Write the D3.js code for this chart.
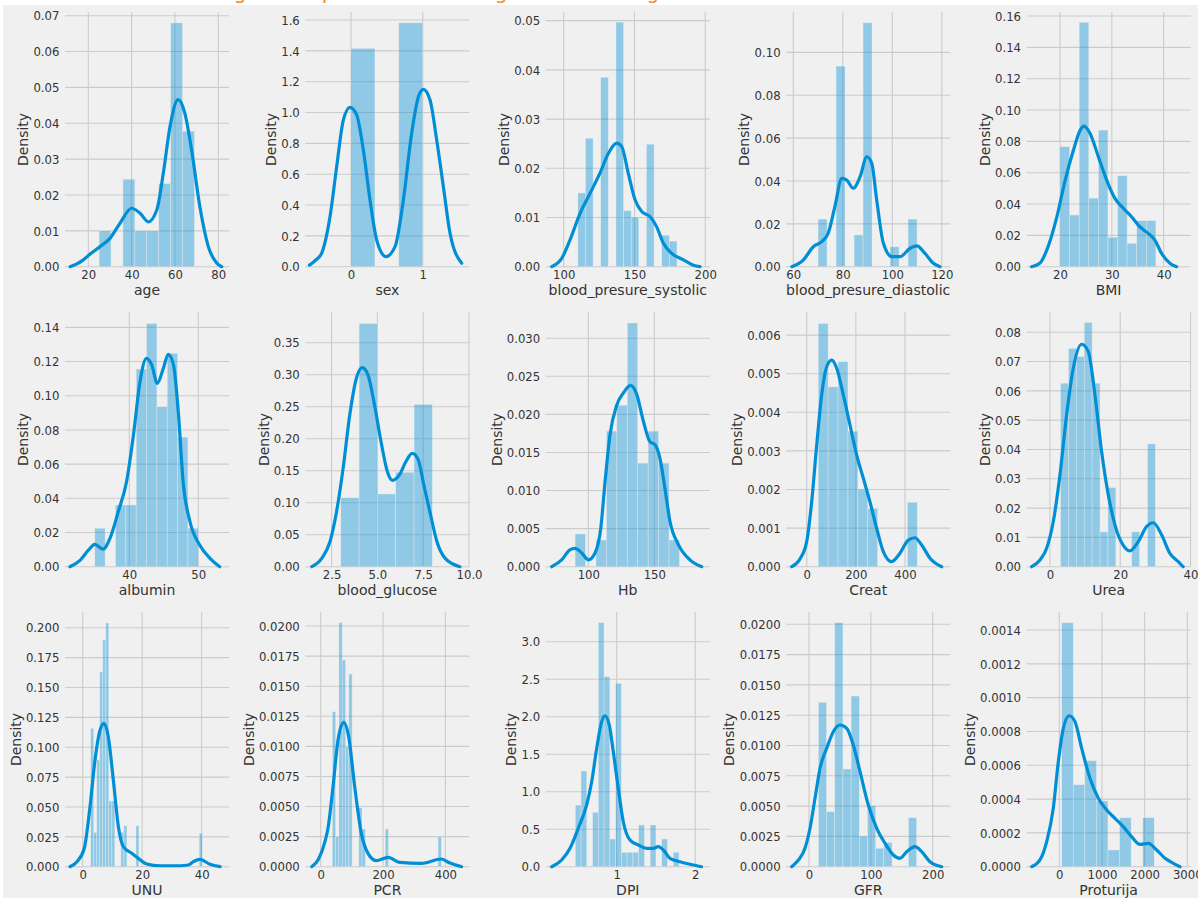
<!DOCTYPE html>
<html><head><meta charset="utf-8">
<script src="https://cdn.jsdelivr.net/npm/d3@7"></script>
<style>
html,body{margin:0;padding:0;background:#fff;overflow:hidden;}
svg{display:block;}
</style></head><body>
<svg id="chart" width="1198" height="901"></svg>
<script>
// ---------------- DATA ----------------
const features = ["age","sex","blood_presure_systolic","blood_presure_diastolic","BMI","albumin","blood_glucose","Hb","Creat","Urea","UNU","PCR","DPI","GFR","Proturija"];

const ageBinRange = [25, 69];
const ageHist = [0.0100, 0, 0.0244, 0.0100, 0.0100, 0.0232, 0.0680, 0.0378];
const ageKdeX = [11.6, 14.5, 17.7, 21.0, 25.4, 30.0, 34.6, 40.0, 43.9, 47.7, 51.6, 54.6, 57.7, 61.5, 64.6, 67.7, 71.5, 75.4, 79.3, 81.6];
const ageKdeY = [0, 0.0007, 0.0019, 0.0036, 0.0056, 0.0079, 0.0121, 0.0163, 0.0149, 0.0125, 0.0158, 0.0260, 0.0390, 0.0466, 0.0427, 0.0325, 0.0167, 0.0056, 0.0010, 0];
const ageXTicks = ["20","40","60","80"];
const ageYTicks = ["0.00","0.01","0.02","0.03","0.04","0.05","0.06","0.07"];

const sexBinRange = [0, 1];
const sexHist = [1.416, 0, 1.582];
const sexKdeX = [-0.58, -0.5, -0.41, -0.293, -0.2, -0.107, -0.014, 0.079, 0.172, 0.265, 0.358, 0.488, 0.614, 0.73, 0.846, 0.939, 1.009, 1.102, 1.195, 1.288, 1.381, 1.544];
const sexKdeY = [0.01, 0.04, 0.087, 0.324, 0.649, 0.951, 1.034, 0.984, 0.757, 0.433, 0.173, 0.065, 0.13, 0.433, 0.865, 1.10, 1.15, 1.081, 0.822, 0.519, 0.217, 0.022];
const sexXTicks = ["0","1"];
const sexYTicks = ["0.0","0.2","0.4","0.6","0.8","1.0","1.2","1.4","1.6"];

const sysBinRange = [110, 180];
const sysHist = [0.0150, 0.0261, 0, 0.0385, 0, 0.0497, 0.0114, 0.0101, 0, 0.0249, 0, 0.0064, 0.0052];
const sysKdeX = [91.5, 98.6, 104.4, 111.5, 118.6, 125.6, 131.5, 137.4, 141.0, 145.6, 150.4, 155.1, 160.9, 165.7, 170.3, 176.3, 184.5, 191.5, 196.3];
const sysKdeY = [0, 0.0017, 0.0054, 0.0108, 0.0149, 0.0190, 0.0230, 0.0251, 0.0244, 0.0190, 0.0136, 0.0112, 0.0102, 0.0081, 0.0048, 0.0027, 0.0014, 0.0003, 0];
const sysXTicks = ["100","150","200"];
const sysYTicks = ["0.00","0.01","0.02","0.03","0.04","0.05"];

const diaBinRange = [70, 110];
const diaHist = [0.0222, 0, 0.0936, 0, 0.0148, 0.1138, 0, 0, 0.0093, 0, 0.0222];
const diaKdeX = [59.4, 64.0, 68.1, 71.5, 74.1, 76.8, 79.6, 81.6, 84.2, 87.0, 89.7, 91.7, 93.7, 96.4, 99.8, 103.1, 107.2, 109.9, 113.2, 116.6, 119.3];
const diaKdeY = [0, 0.0031, 0.0093, 0.0117, 0.0156, 0.0280, 0.0412, 0.0404, 0.0366, 0.0420, 0.0513, 0.0482, 0.0311, 0.0109, 0.0047, 0.0047, 0.0086, 0.0097, 0.0062, 0.0016, 0];
const diaXTicks = ["60","80","100","120"];
const diaYTicks = ["0.00","0.02","0.04","0.06","0.08","0.10"];

const bmiBinRange = [20, 38.5];
const bmiHist = [0.0766, 0.0330, 0.1560, 0.0438, 0.0872, 0.0188, 0.0581, 0.0149, 0.0294, 0.0294];
const bmiKdeX = [14.5, 16.1, 17.7, 19.4, 21.0, 22.6, 23.9, 24.6, 25.8, 27.4, 29.0, 30.6, 32.2, 33.8, 35.4, 37.0, 38.3, 39.6, 41.2, 42.5];
const bmiKdeY = [0, 0.0022, 0.0128, 0.0319, 0.0553, 0.0745, 0.0872, 0.0898, 0.0851, 0.0702, 0.0553, 0.0436, 0.0373, 0.0319, 0.0255, 0.0213, 0.0170, 0.0085, 0.0022, 0];
const bmiXTicks = ["20","30","40"];
const bmiYTicks = ["0.00","0.02","0.04","0.06","0.08","0.10","0.12","0.14","0.16"];

const albBinRange = [35, 50];
const albHist = [0.0225, 0, 0.0361, 0.0361, 0.1156, 0.1423, 0.0936, 0.1248, 0.0757, 0.0225];
const albKdeX = [31.4, 32.9, 34.1, 35.0, 36.2, 37.2, 38.4, 39.6, 40.6, 41.55, 42.5, 43.25, 44.06, 44.93, 45.65, 46.4, 47.1, 47.8, 48.8, 50.2, 51.7, 53.1];
const albKdeY = [0, 0.0039, 0.0098, 0.0131, 0.0103, 0.0166, 0.0322, 0.0497, 0.0770, 0.1082, 0.1219, 0.1180, 0.1072, 0.1160, 0.1242, 0.1180, 0.0906, 0.0497, 0.0263, 0.0127, 0.0049, 0];
const albXTicks = ["40","50"];
const albYTicks = ["0.00","0.02","0.04","0.06","0.08","0.10","0.12","0.14"];

const gluBinRange = [3, 8];
const gluHist = [0.1078, 0.3800, 0.1136, 0.1475, 0.2537];
const gluKdeX = [1.42, 1.96, 2.41, 2.77, 3.13, 3.49, 3.85, 4.17, 4.48, 4.84, 5.2, 5.55, 5.82, 6.19, 6.55, 6.9, 7.23, 7.53, 7.9, 8.25, 8.7, 9.5];
const gluKdeY = [0, 0.013, 0.039, 0.086, 0.154, 0.237, 0.294, 0.311, 0.300, 0.253, 0.195, 0.148, 0.135, 0.143, 0.164, 0.177, 0.167, 0.128, 0.081, 0.039, 0.013, 0];
const gluXTicks = ["2.5","5.0","7.5","10.0"];
const gluYTicks = ["0.00","0.05","0.10","0.15","0.20","0.25","0.30","0.35"];

const hbBinRange = [90, 169];
const hbHist = [0.0043, 0, 0.0035, 0.0178, 0.0212, 0.0320, 0.0136, 0.0178, 0.0136, 0.0035];
const hbKdeX = [72.3, 79.8, 86.1, 89.9, 95.0, 100.0, 105.1, 109.4, 112.7, 116.4, 121.5, 126.5, 132.1, 136.7, 141.7, 146.7, 150.5, 154.3, 158.0, 161.9, 168.2, 177.0, 185.9];
const hbKdeY = [0, 0.0009, 0.0022, 0.0024, 0.0018, 0.0009, 0.0018, 0.0050, 0.0112, 0.0173, 0.0212, 0.0228, 0.0238, 0.0226, 0.0191, 0.0164, 0.0160, 0.0142, 0.0103, 0.0059, 0.0029, 0.0009, 0];
const hbXTicks = ["100","150"];
const hbYTicks = ["0.000","0.005","0.010","0.015","0.020","0.025","0.030"];

const creatBinRange = [47, 450];
const creatHist = [0.0063, 0.00466, 0.00531, 0.00351, 0.00201, 0.00151, 0, 0, 0, 0.00167];
const creatKdeX = [-61, -27.3, 0, 20.3, 40.7, 61, 81.4, 101.7, 122.1, 149.1, 176.2, 203.5, 230.4, 257.6, 284.9, 311.8, 345.9, 379.7, 413.5, 440.8, 468, 501.8, 549.4];
const creatKdeY = [0, 0.0002, 0.00065, 0.00168, 0.00315, 0.00445, 0.00518, 0.00535, 0.00514, 0.00445, 0.00367, 0.00289, 0.00229, 0.00168, 0.00099, 0.00039, 0.00013, 0.00035, 0.00069, 0.00075, 0.00056, 0.00022, 0];
const creatXTicks = ["0","200","400"];
const creatYTicks = ["0.000","0.001","0.002","0.003","0.004","0.005","0.006"];

const ureaBinRange = [3, 30];
const ureaHist = [0.0626, 0.0745, 0.0717, 0.0833, 0.0626, 0.0119, 0.0270, 0, 0, 0.0119, 0, 0.0419];
const ureaKdeX = [-5.2, -2.84, -0.95, 0.95, 2.84, 4.74, 6.63, 9.0, 10.9, 12.8, 14.7, 16.6, 18.5, 20.8, 22.7, 25.1, 27.5, 29.4, 31.8, 34.1, 36.5, 37.9];
const ureaKdeY = [0, 0.0023, 0.0063, 0.0154, 0.0313, 0.0518, 0.0677, 0.0759, 0.0734, 0.0586, 0.0392, 0.0245, 0.0142, 0.0074, 0.0054, 0.0085, 0.0137, 0.0150, 0.0108, 0.0046, 0.0017, 0];
const ureaXTicks = ["0","20","40"];
const ureaYTicks = ["0.00","0.01","0.02","0.03","0.04","0.05","0.06","0.07","0.08"];

const unuBinRange = [2.7, 40.2];
const unuHist = [0.1158, 0.0288, 0.0893, 0.163, 0.190, 0.204, 0.055, 0.055, 0, 0, 0.0288, 0.0343, 0, 0, 0, 0.0343, 0, 0, 0, 0, 0, 0, 0, 0, 0, 0, 0, 0, 0, 0, 0, 0, 0, 0, 0, 0, 0.028];
const unuKdeX = [-4.27, -2.0, 0.5, 2.45, 4.13, 5.8, 7.16, 8.6, 10.3, 12.0, 13.7, 16.5, 18.7, 21.5, 26.0, 32.7, 35.5, 37.2, 39.4, 42.8, 46.2];
const unuKdeY = [0, 0.004, 0.015, 0.050, 0.089, 0.114, 0.120, 0.109, 0.0726, 0.0335, 0.0167, 0.0112, 0.0070, 0.0023, 0.0008, 0.0008, 0.0014, 0.0042, 0.0062, 0.0020, 0];
const unuXTicks = ["0","20","40"];
const unuYTicks = ["0.000","0.025","0.050","0.075","0.100","0.125","0.150","0.175","0.200"];

const pcrBinRange = [37.2, 387];
const pcrHist = [0.01288, 0.00249, 0.02028, 0.01718, 0.00997, 0.0160, 0, 0, 0.0049, 0.00313, 0, 0, 0, 0, 0, 0, 0.00313, 0, 0, 0, 0, 0, 0, 0, 0, 0, 0, 0, 0, 0, 0, 0, 0.00249];
const pcrKdeX = [-28.9, -7.6, 13.8, 23.4, 39.5, 55.5, 73.8, 89.8, 109, 130.3, 151.7, 178.4, 216, 253.4, 322.8, 387, 414.8, 452];
const pcrKdeY = [0, 0.0006, 0.0021, 0.0032, 0.00665, 0.01053, 0.0120, 0.0108, 0.00665, 0.00277, 0.00111, 0.0005, 0.00078, 0.00036, 0.00028, 0.00064, 0.0003, 0];
const pcrXTicks = ["0","200","400"];
const pcrYTicks = ["0.0000","0.0025","0.0050","0.0075","0.0100","0.0125","0.0150","0.0175","0.0200"];

const dpiBinRange = [0.473, 1.793];
const dpiHist = [0.822, 1.276, 0, 0.725, 3.253, 2.533, 0.369, 2.445, 0.192, 0.192, 0.192, 0.556, 0, 0.556, 0, 0.369, 0, 0.192];
const dpiKdeX = [0.173, 0.3, 0.406, 0.511, 0.618, 0.682, 0.746, 0.809, 0.851, 0.906, 0.957, 1.02, 1.084, 1.169, 1.275, 1.382, 1.466, 1.529, 1.593, 1.678, 1.805, 1.933, 2.08];
const dpiKdeY = [0, 0.089, 0.245, 0.512, 0.823, 1.133, 1.579, 1.933, 2.013, 1.889, 1.533, 1.045, 0.600, 0.356, 0.289, 0.245, 0.245, 0.267, 0.223, 0.112, 0.067, 0.032, 0];
const dpiXTicks = ["1","2"];
const dpiYTicks = ["0.0","0.5","1.0","1.5","2.0","2.5","3.0"];

const gfrBinRange = [15.1, 174];
const gfrHist = [0.01356, 0.00454, 0.02013, 0.00806, 0.01408, 0.00253, 0.00503, 0.00152, 0.00201, 0, 0, 0.00404];
const gfrKdeX = [-28, -17.2, -6.5, 1.6, 9.7, 17.8, 28.6, 39.3, 50.1, 61, 71.6, 82.5, 95.9, 109.5, 122.9, 136.3, 147.1, 158, 171.4, 182.2, 195.6, 214.6];
const gfrKdeY = [0, 0.00055, 0.00152, 0.00317, 0.00564, 0.00812, 0.00977, 0.01114, 0.01169, 0.01142, 0.01004, 0.00784, 0.00509, 0.00317, 0.00193, 0.00097, 0.00069, 0.00124, 0.00165, 0.00124, 0.00041, 0];
const gfrXTicks = ["0","100","200"];
const gfrYTicks = ["0.0000","0.0025","0.0050","0.0075","0.0100","0.0125","0.0150","0.0175","0.0200"];

const protBinRange = [56, 2226];
const protHist = [0.001443, 0.000485, 0.000627, 0.000389, 0.0000988, 0.000290, 0, 0.000290];
const protKdeX = [-647, -452, -295, -141, -23, 94, 234, 368, 525, 719, 914, 1111, 1305, 1500, 1697, 1891, 2086, 2282, 2477, 2672, 2829];
const protKdeY = [0, 0.00004, 0.000148, 0.000345, 0.000621, 0.000819, 0.000893, 0.000858, 0.000700, 0.000523, 0.000405, 0.000335, 0.000286, 0.000237, 0.000177, 0.000132, 0.000138, 0.000099, 0.00005, 0.00002, 0];
const protXTicks = ["0","1000","2000","3000"];
const protYTicks = ["0.0000","0.0002","0.0004","0.0006","0.0008","0.0010","0.0012","0.0014"];

const titleText = "Checking all the plots of these long tail or skewing of the data";

// ---------------- VIEW LIMITS (layout) ----------------
const xLimits = [[9.25,84.94],[-0.636,1.651],[87.36,203.2],[57.13,123.4],[13.55,45.2],
                 [30.68,54.45],[1.07,10.02],[67.8,192.0],[-83.4,584],[-6.65,40.02],
                 [-5.95,49.2],[-49.1,477],[0.098,2.185],[-36.9,228.3],[-766,3077]];
const yTops = [0.07095,1.65,0.0517,0.1187,0.1624,0.1488,0.3975,0.0334,0.00659,0.0868,0.2129,0.02114,3.392,0.02099,0.001505];

// ---------------- BUILD ----------------
const panels = [
  [ageHist, ageBinRange, ageKdeX, ageKdeY, ageXTicks, ageYTicks],
  [sexHist, sexBinRange, sexKdeX, sexKdeY, sexXTicks, sexYTicks],
  [sysHist, sysBinRange, sysKdeX, sysKdeY, sysXTicks, sysYTicks],
  [diaHist, diaBinRange, diaKdeX, diaKdeY, diaXTicks, diaYTicks],
  [bmiHist, bmiBinRange, bmiKdeX, bmiKdeY, bmiXTicks, bmiYTicks],
  [albHist, albBinRange, albKdeX, albKdeY, albXTicks, albYTicks],
  [gluHist, gluBinRange, gluKdeX, gluKdeY, gluXTicks, gluYTicks],
  [hbHist, hbBinRange, hbKdeX, hbKdeY, hbXTicks, hbYTicks],
  [creatHist, creatBinRange, creatKdeX, creatKdeY, creatXTicks, creatYTicks],
  [ureaHist, ureaBinRange, ureaKdeX, ureaKdeY, ureaXTicks, ureaYTicks],
  [unuHist, unuBinRange, unuKdeX, unuKdeY, unuXTicks, unuYTicks],
  [pcrHist, pcrBinRange, pcrKdeX, pcrKdeY, pcrXTicks, pcrYTicks],
  [dpiHist, dpiBinRange, dpiKdeX, dpiKdeY, dpiXTicks, dpiYTicks],
  [gfrHist, gfrBinRange, gfrKdeX, gfrKdeY, gfrXTicks, gfrYTicks],
  [protHist, protBinRange, protKdeX, protKdeY, protXTicks, protYTicks]
].map((a,i)=>({name:features[i], hist:a[0], range:a[1], kde:a[2].map((x,j)=>[x,a[3][j]]), xt:a[4], yt:a[5]}));

const FONT = "'DejaVu Sans', sans-serif";
const BLUE = "#008fd5";
const svg = d3.select("#chart");

svg.append("rect").attr("x",0).attr("y",0).attr("width",1198).attr("height",901).attr("fill","#ffffff");
svg.append("text").attr("x",154).attr("y",-1).attr("font-family",FONT).attr("font-size",20)
   .attr("fill","#f08a1e").text(titleText);
svg.append("rect").attr("x",3).attr("y",5).attr("width",1195).attr("height",893).attr("fill","#f0f0f0");

const AX_W = 164, AX_H = 254.4;

panels.forEach((p,i)=>{
  const col = i%5, row = Math.floor(i/5);
  const left = 65 + 240.4*col, top = 12.3 + 300*row;
  const x = d3.scaleLinear().domain(xLimits[i]).range([left, left+AX_W]);
  const y = d3.scaleLinear().domain([0, yTops[i]]).range([top+AX_H, top]);
  const xtv = p.xt.map(Number), ytv = p.yt.map(Number);
  const g = svg.append("g");

  // grid
  g.append("g").selectAll("line").data(ytv).join("line")
    .attr("x1",left).attr("x2",left+AX_W).attr("y1",d=>y(d)).attr("y2",d=>y(d))
    .attr("stroke","#cbcbcb").attr("stroke-width",1.1);
  g.append("g").selectAll("line").data(xtv).join("line")
    .attr("x1",d=>x(d)).attr("x2",d=>x(d)).attr("y1",top).attr("y2",top+AX_H)
    .attr("stroke","#cbcbcb").attr("stroke-width",1.1);

  // histogram
  const bw = (p.range[1]-p.range[0])/p.hist.length;
  const bins = p.hist.map((h,k)=>({x0:p.range[0]+k*bw, x1:p.range[0]+(k+1)*bw, h})).filter(b=>b.h>0);
  g.append("g").selectAll("rect").data(bins).join("rect")
    .attr("x",b=>x(b.x0)).attr("width",b=>x(b.x1)-x(b.x0))
    .attr("y",b=>y(b.h)).attr("height",b=>y(0)-y(b.h))
    .attr("fill",BLUE).attr("fill-opacity",0.4)
    .attr("stroke","#f0f0f0").attr("stroke-width",0.6).attr("stroke-opacity",0.6);

  // kde
  const line = d3.line().x(d=>x(d[0])).y(d=>y(d[1])).curve(d3.curveMonotoneX);
  g.append("path").datum(p.kde).attr("d",line)
    .attr("fill","none").attr("stroke",BLUE).attr("stroke-width",3.2)
    .attr("stroke-linejoin","round").attr("stroke-linecap","round");

  // axes
  const xa = g.append("g").attr("transform",`translate(0,${top+AX_H})`)
    .call(d3.axisBottom(x).tickValues(xtv).tickFormat((d,k)=>p.xt[k]).tickSize(0).tickPadding(4.3));
  xa.select(".domain").remove();
  xa.selectAll("text").attr("font-family",FONT).attr("font-size",11.7).attr("fill","#333");

  const ya = g.append("g").attr("transform",`translate(${left},0)`)
    .call(d3.axisLeft(y).tickValues(ytv).tickFormat((d,k)=>p.yt[k]).tickSize(0).tickPadding(5.6));
  ya.select(".domain").remove();
  ya.selectAll("text").attr("font-family",FONT).attr("font-size",11.7).attr("fill","#333").attr("dy","0.36em");

  // labels
  g.append("text").attr("x",left+AX_W/2).attr("y",top+AX_H+28.4)
    .attr("text-anchor","middle").attr("font-family",FONT).attr("font-size",14).attr("fill","#333")
    .text(p.name);
  const bb = ya.node().getBBox();
  g.append("text").attr("transform",`translate(${left+bb.x-5.2},${top+AX_H/2}) rotate(-90)`)
    .attr("text-anchor","middle").attr("font-family",FONT).attr("font-size",14).attr("fill","#333")
    .text("Density");
});
</script>
</body></html>
